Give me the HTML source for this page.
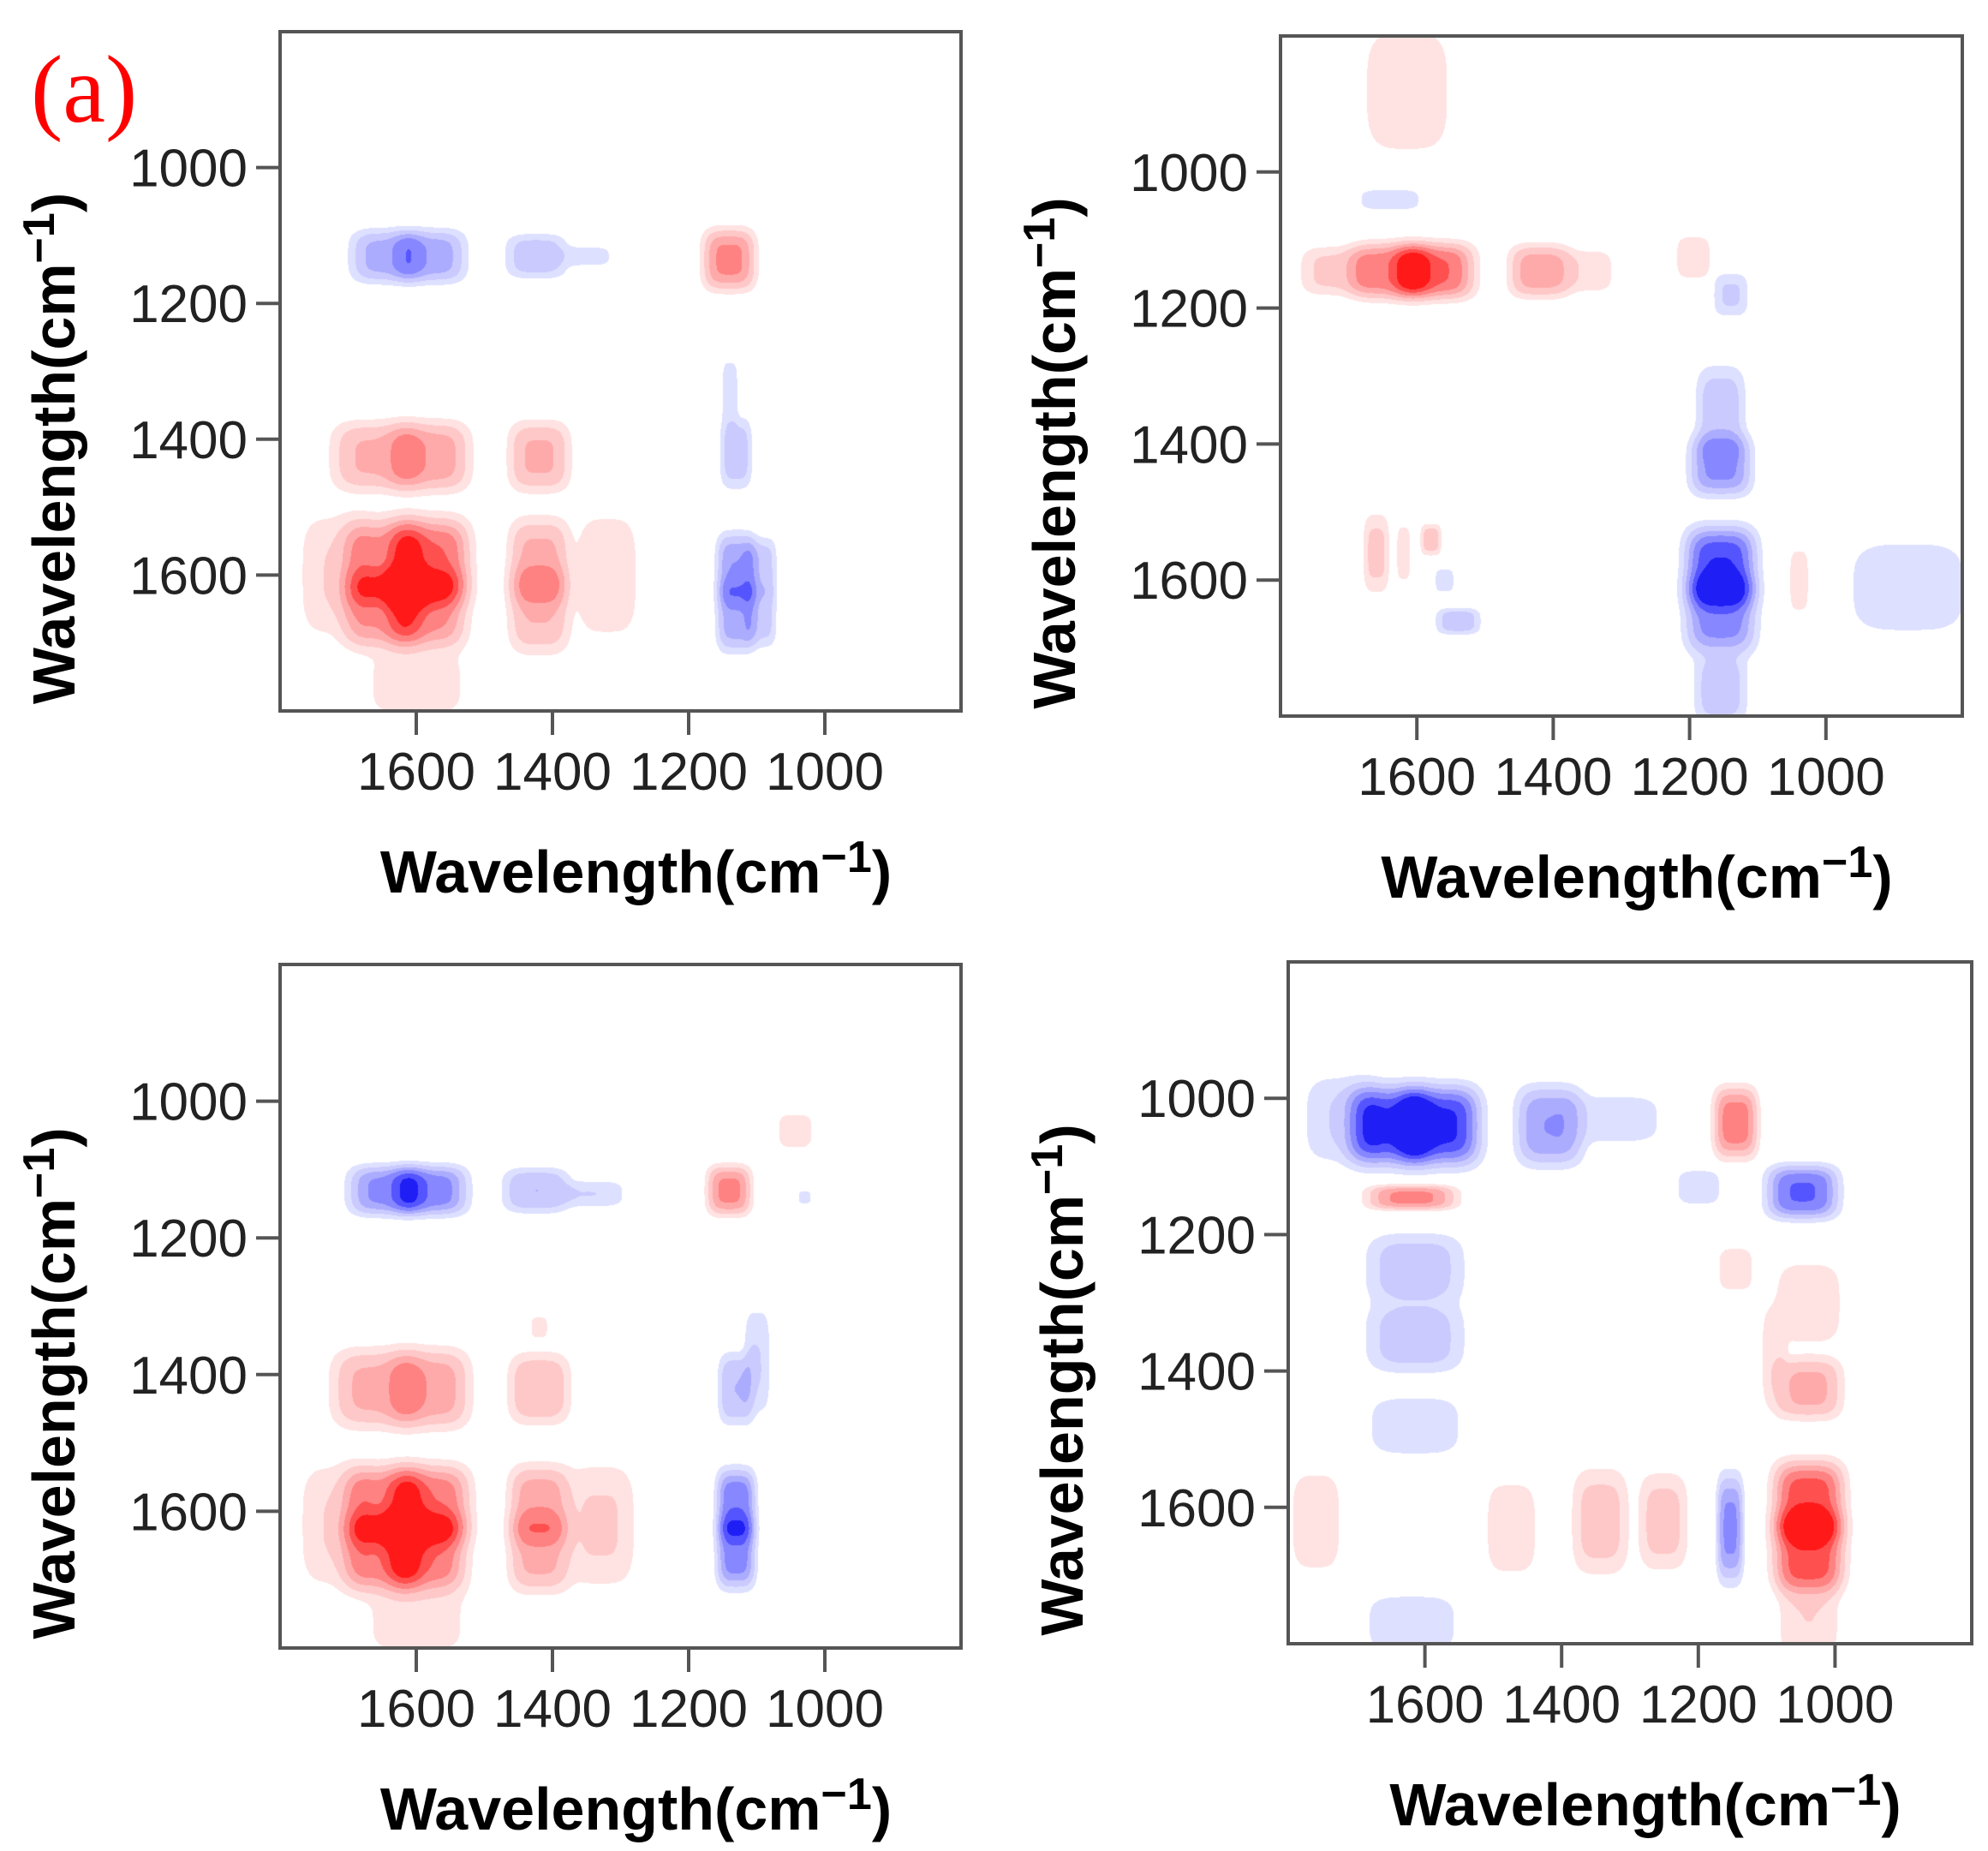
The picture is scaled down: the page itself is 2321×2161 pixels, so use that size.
<!DOCTYPE html>
<html><head><meta charset="utf-8">
<style>
html,body{margin:0;padding:0;background:#fff;}
#root{position:relative;width:2321px;height:2161px;overflow:hidden;background:#fff;font-family:"Liberation Sans",Arial,sans-serif;}
canvas{position:absolute;}
svg{position:absolute;left:0;top:0;}
</style></head>
<body>
<div id="root">
<svg id="ov" width="2321" height="2161"></svg>
</div>
<script>
// axis ticks
const tickValues = [1000, 1200, 1400, 1600];
const axisDomain = [1800, 800];

// Panel 1 blobs
const p1X   = [1645,1580,1424,1350,1141,1660,1580,1420,1650,1580,1650,1585,1420,1420,1720,1320,1600,1131,1131,1131,1095,1095,1140];
const p1Y   = [1130,1130,1130,1130,1135,1425,1425,1425,1580,1580,1650,1650,1580,1650,1600,1600,1760,1420,1590,1660,1590,1660,1330];
const p1SX  = [40,40,35,30,30,50,45,35,45,45,45,45,35,35,40,35,60,18,22,22,18,18,10];
const p1SY  = [30,30,25,12,35,40,40,40,50,50,45,45,50,50,70,70,40,40,40,40,35,35,40];
const p1A   = [-0.42,-0.45,-0.3,-0.15,0.55,0.38,0.45,0.38,0.55,0.7,0.5,0.55,0.4,0.35,0.2,0.2,0.15,-0.3,-0.5,-0.45,-0.3,-0.28,-0.15];

// Panel 2 blobs
const p2X   = [1640,1575,1720,1420,1350,1615,1640,1155,1155,1155,1155,1155,1660,1580,1540,1560,1195,1140,880,1040,1620];
const p2Y   = [1145,1145,1145,1145,1145,880,1040,1430,1580,1650,1350,1760,1560,1540,1660,1600,1125,1180,1610,1600,1560];
const p2SX  = [45,45,40,35,30,55,35,35,40,40,28,30,15,12,25,12,20,20,70,12,10];
const p2SY  = [32,32,28,30,25,80,12,35,45,45,50,40,45,18,15,15,25,25,55,40,40];
const p2A   = [0.6,0.7,0.25,0.45,0.18,0.15,-0.2,-0.55,-0.85,-0.6,-0.3,-0.3,0.25,0.28,-0.3,-0.15,0.2,-0.22,-0.18,0.15,0.12];

// Panel 3 blobs
const p3X   = [1645,1580,1424,1340,1141,1660,1580,1420,1650,1580,1650,1585,1420,1420,1720,1330,1600,1131,1131,1131,1100,1044,1030,1420];
const p3Y   = [1130,1130,1130,1135,1130,1420,1420,1420,1590,1590,1660,1660,1590,1660,1620,1620,1760,1420,1590,1660,1380,1043,1140,1330];
const p3SX  = [42,42,38,35,25,50,45,35,45,45,45,45,35,35,40,40,60,20,22,22,15,20,8,12];
const p3SY  = [28,28,25,15,28,45,45,40,45,45,45,45,45,45,70,70,40,40,40,40,60,20,8,15];
const p3A   = [-0.55,-0.6,-0.35,-0.2,0.55,0.4,0.45,0.35,0.6,0.65,0.6,0.65,0.45,0.4,0.2,0.22,0.15,-0.35,-0.65,-0.6,-0.2,0.2,-0.15,0.12];

// Panel 4 blobs
const p4X   = [1655,1578,1720,1418,1320,1200,1146,1048,1620,1615,1615,1615,1620,1039,1039,1039,1039,1039,1760,1474,1344,1252,1154,1146,1090];
const p4Y   = [1040,1040,1030,1040,1030,1130,1035,1137,1145,1250,1350,1480,1770,1300,1425,1590,1665,1760,1620,1630,1620,1620,1630,1250,1380];
const p4SX  = [45,45,45,38,55,25,25,40,50,55,55,55,55,40,38,40,40,35,30,30,32,28,15,20,15];
const p4SY  = [45,45,50,45,30,20,40,30,14,40,40,35,35,50,35,45,45,50,60,55,60,55,60,25,60];
const p4A   = [-0.85,-0.9,-0.2,-0.5,-0.15,-0.2,0.6,-0.7,0.55,-0.3,-0.3,-0.18,-0.17,0.17,0.4,0.8,0.8,0.2,0.17,0.18,0.28,0.27,-0.55,0.2,0.15];

const panels = [
  {name:'panel-top-left', L:327,T:37,R:1122,B:830, X:p1X,Y:p1Y,SX:p1SX,SY:p1SY,A:p1A},
  {name:'panel-top-right', L:1495,T:42,R:2291,B:836, X:p2X,Y:p2Y,SX:p2SX,SY:p2SY,A:p2A},
  {name:'panel-bottom-left', L:327,T:1126,R:1122,B:1924, X:p3X,Y:p3Y,SX:p3SX,SY:p3SY,A:p3A},
  {name:'panel-bottom-right', L:1504,T:1123,R:2302,B:1919, X:p4X,Y:p4Y,SX:p4SX,SY:p4SY,A:p4A}
];

const thr = [0.08,0.2,0.35,0.5,0.68,0.85];
const redC = [[255,226,226],[255,200,200],[255,170,170],[255,130,130],[255,80,80],[255,25,25]];
const bluC = [[222,224,255],[202,202,255],[172,172,255],[135,135,255],[85,85,255],[30,30,245]];

const root = document.getElementById('root');
const ov = document.getElementById('ov');
const NS = 'http://www.w3.org/2000/svg';

function mk(tag, attrs){ const e=document.createElementNS(NS,tag); for(const k in attrs) e.setAttribute(k,attrs[k]); return e; }

panels.forEach(function(p, pi){
  const W = p.R-p.L, H = p.B-p.T;
  const sx = v => p.L + (axisDomain[0]-v)/(axisDomain[0]-axisDomain[1])*W;
  const syy = v => p.T + (v-axisDomain[1])/(axisDomain[0]-axisDomain[1])*H;

  const cv = document.createElement('canvas');
  cv.width = W; cv.height = H;
  cv.style.left = p.L+'px'; cv.style.top = p.T+'px';
  
  
  root.insertBefore(cv, ov);
  const ctx = cv.getContext('2d');
  const img = ctx.createImageData(W,H);
  const n = p.X.length;
  const bx=[],by=[],bsx=[],bsy=[];
  for(let i=0;i<n;i++){ bx.push(sx(p.X[i])-p.L); by.push(syy(p.Y[i])-p.T); bsx.push(p.SX[i]*W/1000); bsy.push(p.SY[i]*H/1000); }
  for(let y=0;y<H;y++){
    for(let x=0;x<W;x++){
      let v=0;
      for(let i=0;i<n;i++){
        const dx=Math.abs(x-bx[i])/bsx[i], dy=Math.abs(y-by[i])/bsy[i];
        if(dx>4||dy>4) continue;
        v += p.A[i]*Math.exp(-(Math.pow(dx,3.6)+Math.pow(dy,3.6))*0.5);
      }
      const a=Math.abs(v); let lvl=-1;
      for(let k=0;k<thr.length;k++) if(a>=thr[k]) lvl=k;
      const o=(y*W+x)*4;
      let c=[255,255,255];
      if(lvl>=0) c = v>0?redC[lvl]:bluC[lvl];
      img.data[o]=c[0];img.data[o+1]=c[1];img.data[o+2]=c[2];img.data[o+3]=255;
    }
  }
  ctx.putImageData(img,0,0);

  const g = mk('g',{});
  
  
  ov.appendChild(g);
  const box = mk('rect',{x:p.L,y:p.T,width:W,height:H,fill:'none',stroke:'#555','stroke-width':4});
  
  
  g.appendChild(box);
  tickValues.forEach(function(t){
    const X = sx(t), Y = syy(t);
    const xt = mk('line',{x1:X,y1:p.B,x2:X,y2:p.B+28,stroke:'#555','stroke-width':4});
    
    
    g.appendChild(xt);
    const yt = mk('line',{x1:p.L-28,y1:Y,x2:p.L,y2:Y,stroke:'#555','stroke-width':4});
    
    
    g.appendChild(yt);
    const xl = mk('text',{x:X,y:p.B+92,'text-anchor':'middle','font-size':62,fill:'#222','font-family':'Liberation Sans, Arial, sans-serif'});
    xl.textContent = t;
    
    
    g.appendChild(xl);
    const yl = mk('text',{x:p.L-38,y:Y+22,'text-anchor':'end','font-size':62,fill:'#222','font-family':'Liberation Sans, Arial, sans-serif'});
    yl.textContent = t;
    
    
    g.appendChild(yl);
  });
  const cx = (p.L+p.R)/2, cy=(p.T+p.B)/2;
  const xtl = mk('text',{x:cx+18,y:p.B+212,'text-anchor':'middle','font-size':70,'font-weight':'bold',fill:'#000','font-family':'Liberation Sans, Arial, sans-serif'});
  xtl.innerHTML = 'Wavelength(cm<tspan font-size="52" dy="-24">−1</tspan><tspan dy="24">)</tspan>';
  
  
  g.appendChild(xtl);
  const ytx = p.L-240, yty = cy+90;
  const ytl = mk('text',{x:0,y:0,'text-anchor':'middle','font-size':70,'font-weight':'bold',fill:'#000','font-family':'Liberation Sans, Arial, sans-serif',transform:'translate('+ytx+','+yty+') rotate(-90)'});
  ytl.innerHTML = 'Wavelength(cm<tspan font-size="52" dy="-24">−1</tspan><tspan dy="24">)</tspan>';
  
  
  g.appendChild(ytl);
});

const lab = mk('text',{x:36,y:142,'font-size':112,fill:'#ff0000','font-family':'Liberation Serif, Times New Roman, serif'});
lab.textContent = '(a)';


ov.appendChild(lab);
</script>
</body></html>
